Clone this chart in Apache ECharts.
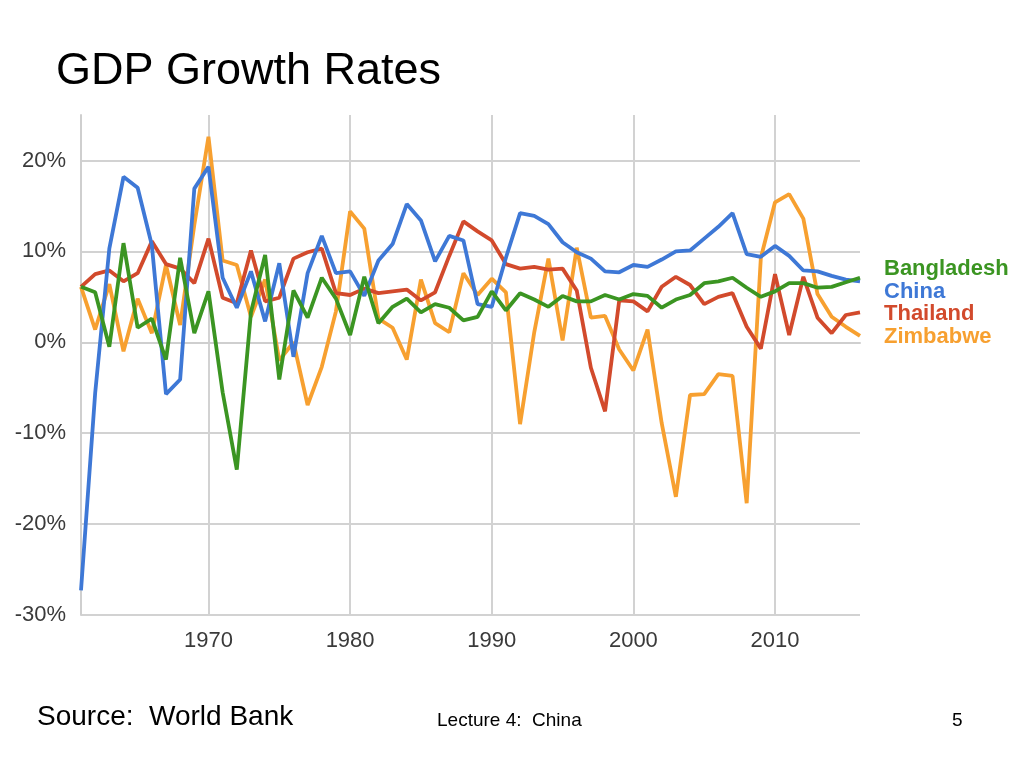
<!DOCTYPE html>
<html><head><meta charset="utf-8">
<script src="https://cdn.jsdelivr.net/npm/echarts@6/dist/echarts.min.js"></script>
<style>html,body{margin:0;padding:0;background:#fff}#c{width:1024px;height:768px}</style>
</head><body><div id="c"></div>
<script>
const years = [];
for (let y = 1961; y <= 2016; y++) years.push(String(y));
const bangladesh = [6.1,5.5,-0.5,10.9,1.6,2.6,-1.9,9.3,1.0,5.6,-5.5,-14.0,3.3,9.6,-4.1,5.7,2.7,7.1,4.8,0.8,7.2,2.1,3.9,4.8,3.3,4.2,3.8,2.4,2.8,5.6,3.5,5.4,4.7,3.9,5.1,4.5,4.5,5.2,4.7,5.3,5.1,3.8,4.7,5.2,6.5,6.7,7.1,6.0,5.0,5.6,6.5,6.5,6.0,6.1,6.6,7.1];
const china = [-27.3,-5.6,10.3,18.2,17.0,10.7,-5.7,-4.1,16.9,19.3,7.1,3.8,7.8,2.3,8.7,-1.6,7.6,11.7,7.6,7.8,5.1,9.0,10.8,15.2,13.4,8.9,11.7,11.2,4.2,3.9,9.3,14.2,13.9,13.0,11.0,9.9,9.2,7.8,7.7,8.5,8.3,9.1,10.0,10.1,11.4,12.7,14.2,9.7,9.4,10.6,9.5,7.9,7.8,7.3,6.9,6.7];
const thailand = [6.1,7.5,7.9,6.7,7.6,11.1,8.6,8.1,6.5,11.4,4.9,4.3,10.1,4.5,4.9,9.2,9.9,10.3,5.4,5.2,5.9,5.4,5.6,5.8,4.6,5.5,9.5,13.3,12.2,11.2,8.6,8.1,8.3,8.0,8.1,5.7,-2.8,-7.6,4.6,4.5,3.4,6.1,7.2,6.3,4.2,5.0,5.4,1.7,-0.7,7.5,0.8,7.2,2.7,1.0,3.0,3.3];
const zimbabwe = [6.1,1.4,6.4,-1.0,4.8,1.0,8.5,1.9,12.9,22.6,9.0,8.5,2.8,6.9,-2.0,0.0,-6.9,-2.7,3.4,14.4,12.5,2.6,1.6,-1.9,6.9,2.1,1.1,7.6,5.2,7.0,5.5,-9.0,1.1,9.2,0.2,10.4,2.7,2.9,-0.8,-3.1,1.4,-8.9,-17.0,-5.8,-5.7,-3.5,-3.7,-17.7,9.3,15.4,16.3,13.6,5.3,2.8,1.7,0.7];
const seriesNames = ['Bangladesh','China','Thailand','Zimbabwe'];
const colors = ['#3b9522','#3e78d6','#d24a2c','#f7a030'];
const seriesData = [bangladesh, china, thailand, zimbabwe];

const F = 'Liberation Sans';
const chart = echarts.init(document.getElementById('c'), null, {renderer:'canvas'});
chart.setOption({
  animation:false,
  backgroundColor:'#fff',
  title:[
    {text:'GDP Growth Rates', left:51, top:44, textStyle:{fontFamily:F, fontSize:45, fontWeight:'normal', color:'#000'}},
    {text:'Source:  World Bank', left:32, top:698, textStyle:{fontFamily:F, fontSize:28, fontWeight:'normal', color:'#000'}},
    {text:'Lecture 4:  China', left:432, top:706, textStyle:{fontFamily:F, fontSize:19, fontWeight:'normal', color:'#000'}},
    {text:'5', left:947, top:706, textStyle:{fontFamily:F, fontSize:19, fontWeight:'normal', color:'#000'}}
  ],
  legend:{
    orient:'vertical', left:879, top:253, itemWidth:0, itemHeight:0, itemGap:0, icon:'rect',
    selectedMode:false,
    textStyle:{fontFamily:F, fontSize:22, fontWeight:'bold', padding:[0,0,0,-5], lineHeight:22.5},
    data: seriesNames.map((n,i)=>({name:n, textStyle:{color:colors[i]}}))
  },
  grid:{left:81, right:164, top:115, bottom:153, containLabel:false},
  xAxis:{
    type:'category', data:years, boundaryGap:false,
    axisLine:{show:true, lineStyle:{color:'#cfcfcf', width:2}},
    axisTick:{show:false},
    axisLabel:{interval:(i,v)=>Number(v)%10===0, color:'#3a3a3a', fontFamily:F, fontSize:22, margin:15},
    splitLine:{show:true, interval:(i,v)=>Number(v)%10===0, lineStyle:{color:'#d2d2d2', width:2}}
  },
  yAxis:{
    type:'value', min:-30, max:25, interval:10,
    axisLine:{show:true, lineStyle:{color:'#cfcfcf', width:2}},
    axisTick:{show:false},
    axisLabel:{formatter:v=> v>20 ? '' : v+'%', color:'#3a3a3a', fontFamily:F, fontSize:22, margin:15},
    splitLine:{show:true, showMaxLine:false, lineStyle:{color:'#d2d2d2', width:2}}
  },
  series: seriesNames.map((n,i)=>({
    name:n, type:'line', data:seriesData[i], showSymbol:false, symbol:'none',
    lineStyle:{color:colors[i], width:3.8}, itemStyle:{color:colors[i]}, z: 10-i
  }))
});
</script></body></html>
